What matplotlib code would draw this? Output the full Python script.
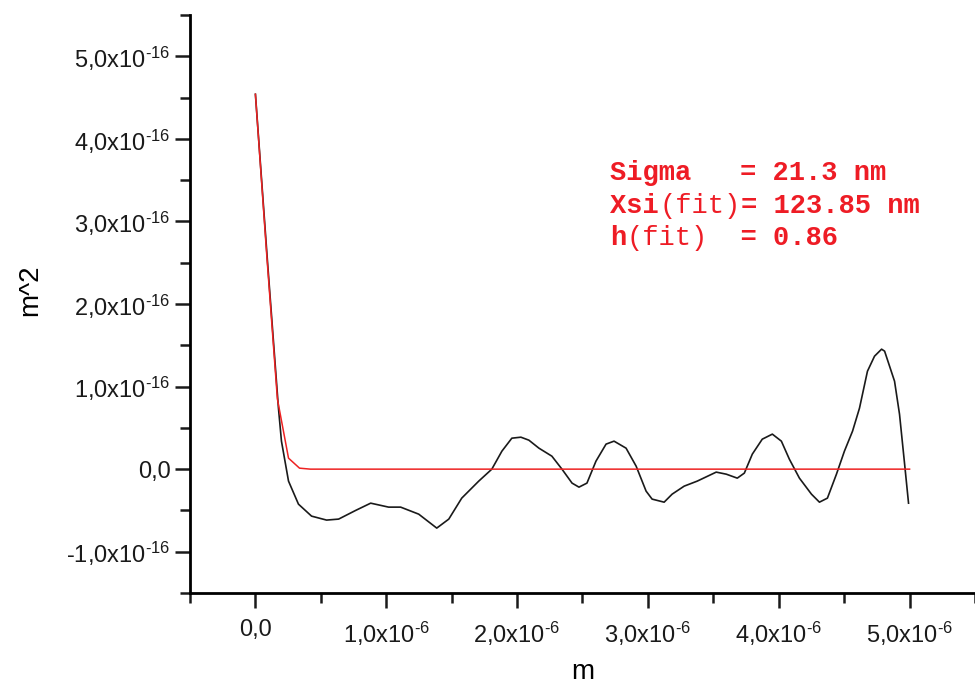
import numpy as np
import matplotlib.pyplot as plt
from matplotlib.ticker import MultipleLocator, FixedLocator, FixedFormatter

plt.rcParams['font.family'] = ['Liberation Sans', 'DejaVu Sans']
plt.rcParams['mathtext.fontset'] = 'custom'
plt.rcParams['mathtext.rm'] = 'Liberation Sans'
plt.rcParams['mathtext.it'] = 'Liberation Sans'

# height-height correlation (x in 1e-6 m, y in 1e-16 m^2)
data_x = [0.0, 0.092, 0.176, 0.199, 0.253, 0.329, 0.429, 0.544, 0.636, 0.766,
          0.881, 1.018, 1.110, 1.248, 1.386, 1.478, 1.577, 1.707, 1.807, 1.884,
          1.960, 2.029, 2.090, 2.167, 2.266, 2.343, 2.420, 2.473, 2.534, 2.603,
          2.680, 2.741, 2.833, 2.910, 2.986, 3.032, 3.124, 3.185, 3.277, 3.377,
          3.522, 3.599, 3.683, 3.737, 3.798, 3.874, 3.951, 4.020, 4.081, 4.158,
          4.250, 4.311, 4.372, 4.441, 4.502, 4.564, 4.617, 4.678, 4.732, 4.786,
          4.809, 4.885, 4.923, 4.962, 4.992]
data_y = [4.54, 2.52, 0.74, 0.339, -0.145, -0.424, -0.569, -0.617, -0.605, -0.50,
          -0.412, -0.46, -0.46, -0.545, -0.714, -0.605, -0.351, -0.145, 0.0, 0.218,
          0.375, 0.387, 0.351, 0.254, 0.157, 0.0, -0.169, -0.218, -0.169, 0.097,
          0.303, 0.339, 0.254, 0.036, -0.266, -0.363, -0.40, -0.303, -0.206, -0.145,
          -0.036, -0.061, -0.109, -0.048, 0.182, 0.363, 0.424, 0.339, 0.121, -0.109,
          -0.303, -0.40, -0.351, -0.061, 0.218, 0.46, 0.738, 1.186, 1.368, 1.453,
          1.429, 1.065, 0.666, 0.061, -0.412]

# fitted model
fit_x = [0.0, 0.084, 0.168, 0.253, 0.337, 0.42, 5.0]
fit_y = [4.54, 2.65, 0.85, 0.133, 0.012, 0.0, 0.0]

x_ticks = [0, 1, 2, 3, 4, 5]
x_labels = ['0,0', r'1,0x10$^{\text{-6}}$', r'2,0x10$^{\text{-6}}$',
            r'3,0x10$^{\text{-6}}$', r'4,0x10$^{\text{-6}}$', r'5,0x10$^{\text{-6}}$']
y_ticks = [-1, 0, 1, 2, 3, 4, 5]
y_labels = [r'-1,0x10$^{\text{-16}}$', '0,0', r'1,0x10$^{\text{-16}}$',
            r'2,0x10$^{\text{-16}}$', r'3,0x10$^{\text{-16}}$',
            r'4,0x10$^{\text{-16}}$', r'5,0x10$^{\text{-16}}$']

W, H = 975, 684
fig = plt.figure(figsize=(W / 100, H / 100), dpi=100)
ax = fig.add_axes([190 / W, 1 - 593 / H, 1 - 190 / W, (593 - 15) / H])

ax.plot(data_x, data_y, color='#1a1a1a', lw=1.2, zorder=3)
ax.plot(fit_x, fit_y, color='#ee2222', lw=1.1, zorder=4)

ax.set_xlim(-0.5, 5.5)
ax.set_ylim(-1.5, 5.5)

for s in ('top', 'right'):
    ax.spines[s].set_visible(False)
for s in ('left', 'bottom'):
    ax.spines[s].set_linewidth(2)

ax.xaxis.set_major_locator(FixedLocator(x_ticks))
ax.xaxis.set_major_formatter(FixedFormatter(x_labels))
ax.yaxis.set_major_locator(FixedLocator(y_ticks))
ax.yaxis.set_major_formatter(FixedFormatter(y_labels))
ax.xaxis.set_minor_locator(MultipleLocator(0.5))
ax.yaxis.set_minor_locator(MultipleLocator(0.5))
ax.tick_params(which='major', direction='out', length=11, width=1.8,
               labelsize=17, colors='#1a1a1a')
ax.tick_params(which='minor', direction='out', length=7, width=1.8,
               colors='#1a1a1a')
ax.tick_params(axis='x', which='major', pad=8)
ax.tick_params(axis='y', which='major', pad=3)

fig.text(30 / W, 1 - 290 / H, 'm^2', rotation=90, fontsize=20,
         ha='center', va='center')
fig.text(583 / W, 1 - 672 / H, 'm', fontsize=20, ha='center', va='center')

# fit parameters, monospaced with bold names and values
red = '#ee1c25'
cw = 16.4
x0 = 610
rows = [
    (180, [('Sigma   = 21.3 nm', 'bold')]),
    (213, [('Xsi', 'bold'), ('(fit)', 'normal'), ('= 123.85 nm', 'bold')]),
    (245, [('h', 'bold'), ('(fit)', 'normal'), ('  = 0.86', 'bold')]),
]
for yb, parts in rows:
    col = 0
    for txt, wt in parts:
        fig.text((x0 + col * cw) / W, 1 - yb / H, txt, fontsize=19.5,
                 family='Liberation Mono', weight=wt, color=red,
                 ha='left', va='baseline')
        col += len(txt)

fig.savefig('out.png', dpi=100)
